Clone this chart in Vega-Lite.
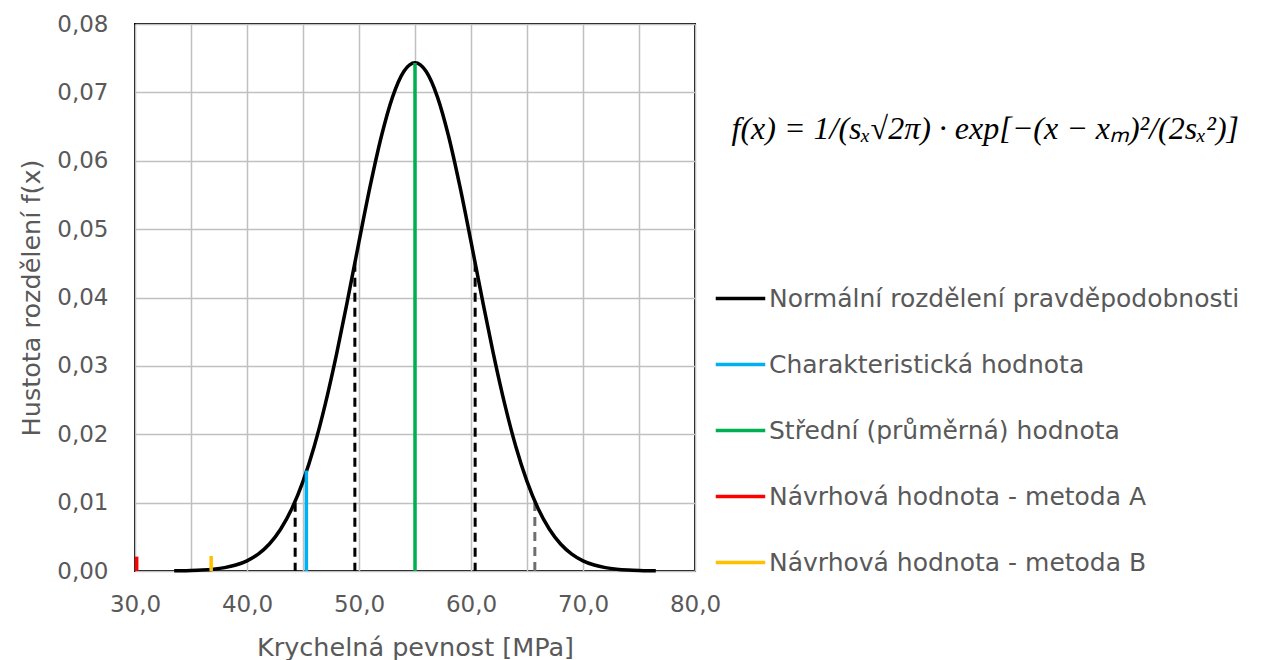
{
  "$schema": "https://vega.github.io/schema/vega-lite/v6.json",
  "width": 560,
  "height": 547,
  "autosize": {"type": "none"},
  "padding": {"left": 135, "top": 24, "right": 573, "bottom": 89},
  "background": "white",
  "config": {
    "font": "DejaVu Sans",
    "view": {"stroke": "#000000", "strokeWidth": 2},
    "axis": {
      "domain": false,
      "ticks": false,
      "labelFlush": false,
      "gridColor": "#c0c0c0",
      "gridWidth": 1.5,
      "labelFont": "DejaVu Sans",
      "labelFontSize": 23,
      "labelColor": "#595959",
      "titleFont": "DejaVu Sans",
      "titleFontSize": 25.5,
      "titleFontWeight": "normal",
      "titleColor": "#595959"
    },
    "legend": {
      "orient": "none",
      "legendX": 579,
      "legendY": 90,
      "symbolType": "stroke",
      "symbolSize": 2450,
      "symbolStrokeWidth": 3.5,
      "labelFont": "DejaVu Sans",
      "labelFontSize": 25,
      "labelColor": "#595959",
      "labelOffset": 2,
      "labelLimit": 0,
      "rowPadding": 26,
      "titleFont": "Liberation Serif",
      "titleFontStyle": "italic",
      "titleFontWeight": "normal",
      "titleFontSize": 32,
      "titleColor": "#000000",
      "titlePadding": 126,
      "titleLimit": 0,
      "titleAnchor": "end"
    }
  },
  "datasets": {
    "curve": [
      {"series": "Normální rozdělení pravděpodobnosti", "x": 33.5, "y": 0.0000243},
      {"series": "Normální rozdělení pravděpodobnosti", "x": 34, "y": 0.0000351},
      {"series": "Normální rozdělení pravděpodobnosti", "x": 35, "y": 0.0000715},
      {"series": "Normální rozdělení pravděpodobnosti", "x": 36, "y": 0.000141},
      {"series": "Normální rozdělení pravděpodobnosti", "x": 37, "y": 0.000268},
      {"series": "Normální rozdělení pravděpodobnosti", "x": 38, "y": 0.000492},
      {"series": "Normální rozdělení pravděpodobnosti", "x": 39, "y": 0.000872},
      {"series": "Normální rozdělení pravděpodobnosti", "x": 40, "y": 0.00149},
      {"series": "Normální rozdělení pravděpodobnosti", "x": 41, "y": 0.00247},
      {"series": "Normální rozdělení pravděpodobnosti", "x": 42, "y": 0.00395},
      {"series": "Normální rozdělení pravděpodobnosti", "x": 43, "y": 0.0061},
      {"series": "Normální rozdělení pravděpodobnosti", "x": 44, "y": 0.00909},
      {"series": "Normální rozdělení pravděpodobnosti", "x": 45, "y": 0.0131},
      {"series": "Normální rozdělení pravděpodobnosti", "x": 46, "y": 0.01821},
      {"series": "Normální rozdělení pravděpodobnosti", "x": 47, "y": 0.02447},
      {"series": "Normální rozdělení pravděpodobnosti", "x": 48, "y": 0.03175},
      {"series": "Normální rozdělení pravděpodobnosti", "x": 49, "y": 0.03979},
      {"series": "Normální rozdělení pravděpodobnosti", "x": 50, "y": 0.04816},
      {"series": "Normální rozdělení pravděpodobnosti", "x": 51, "y": 0.05631},
      {"series": "Normální rozdělení pravděpodobnosti", "x": 52, "y": 0.06358},
      {"series": "Normální rozdělení pravděpodobnosti", "x": 53, "y": 0.06935},
      {"series": "Normální rozdělení pravděpodobnosti", "x": 54, "y": 0.07306},
      {"series": "Normální rozdělení pravděpodobnosti", "x": 55, "y": 0.07434},
      {"series": "Normální rozdělení pravděpodobnosti", "x": 56, "y": 0.07306},
      {"series": "Normální rozdělení pravděpodobnosti", "x": 57, "y": 0.06935},
      {"series": "Normální rozdělení pravděpodobnosti", "x": 58, "y": 0.06358},
      {"series": "Normální rozdělení pravděpodobnosti", "x": 59, "y": 0.05631},
      {"series": "Normální rozdělení pravděpodobnosti", "x": 60, "y": 0.04816},
      {"series": "Normální rozdělení pravděpodobnosti", "x": 61, "y": 0.03979},
      {"series": "Normální rozdělení pravděpodobnosti", "x": 62, "y": 0.03175},
      {"series": "Normální rozdělení pravděpodobnosti", "x": 63, "y": 0.02447},
      {"series": "Normální rozdělení pravděpodobnosti", "x": 64, "y": 0.01821},
      {"series": "Normální rozdělení pravděpodobnosti", "x": 65, "y": 0.0131},
      {"series": "Normální rozdělení pravděpodobnosti", "x": 66, "y": 0.00909},
      {"series": "Normální rozdělení pravděpodobnosti", "x": 67, "y": 0.0061},
      {"series": "Normální rozdělení pravděpodobnosti", "x": 68, "y": 0.00395},
      {"series": "Normální rozdělení pravděpodobnosti", "x": 69, "y": 0.00247},
      {"series": "Normální rozdělení pravděpodobnosti", "x": 70, "y": 0.00149},
      {"series": "Normální rozdělení pravděpodobnosti", "x": 71, "y": 0.000872},
      {"series": "Normální rozdělení pravděpodobnosti", "x": 72, "y": 0.000492},
      {"series": "Normální rozdělení pravděpodobnosti", "x": 73, "y": 0.000268},
      {"series": "Normální rozdělení pravděpodobnosti", "x": 74, "y": 0.000141},
      {"series": "Normální rozdělení pravděpodobnosti", "x": 75, "y": 0.0000715},
      {"series": "Normální rozdělení pravděpodobnosti", "x": 76, "y": 0.0000351},
      {"series": "Normální rozdělení pravděpodobnosti", "x": 76.5, "y": 0.0000243}
    ],
    "values": [
      {"series": "Charakteristická hodnota", "x": 45.3, "top": 0.0147},
      {"series": "Střední (průměrná) hodnota", "x": 55.0, "top": 0.0743},
      {"series": "Návrhová hodnota - metoda A", "x": 30.15, "top": 0.0021},
      {"series": "Návrhová hodnota - metoda B", "x": 36.8, "top": 0.0022}
    ],
    "dashed": [
      {"kind": "black", "x": 44.3, "top": 0.01},
      {"kind": "black", "x": 49.63, "top": 0.0451},
      {"kind": "black", "x": 60.37, "top": 0.0451},
      {"kind": "gray", "x": 65.7, "top": 0.0101}
    ]
  },
  "layer": [
    {
      "data": {"name": "dashed"},
      "transform": [{"filter": "datum.kind === 'black'"}],
      "mark": {"type": "rule", "strokeDash": [9, 6], "strokeWidth": 3, "color": "#000000"},
      "encoding": {
        "x": {
          "field": "x", "type": "quantitative",
          "scale": {"domain": [30, 80], "nice": false, "zero": false},
          "axis": {
            "title": "Krychelná pevnost [MPa]",
            "values": [30, 35, 40, 45, 50, 55, 60, 65, 70, 75, 80],
            "labelExpr": "datum.value % 10 === 0 ? replace(format(datum.value, '.1f'), '.', ',') : ''",
            "labelPadding": 22,
            "titlePadding": 19
          }
        },
        "y": {
          "field": "top", "type": "quantitative",
          "scale": {"domain": [0, 0.08], "nice": false},
          "axis": {
            "title": "Hustota rozdělení f(x)",
            "values": [0, 0.01, 0.02, 0.03, 0.04, 0.05, 0.06, 0.07, 0.08],
            "labelExpr": "replace(format(datum.value, '.2f'), '.', ',')",
            "labelPadding": 27,
            "titlePadding": 12
          }
        },
        "y2": {"datum": 0}
      }
    },
    {
      "data": {"name": "dashed"},
      "transform": [{"filter": "datum.kind === 'gray'"}],
      "mark": {"type": "rule", "strokeDash": [9, 6], "strokeWidth": 3, "color": "#6f6f6f"},
      "encoding": {
        "x": {"field": "x", "type": "quantitative"},
        "y": {"field": "top", "type": "quantitative"},
        "y2": {"datum": 0}
      }
    },
    {
      "data": {"name": "curve"},
      "mark": {"type": "line", "strokeWidth": 3.5, "interpolate": "monotone"},
      "encoding": {
        "x": {"field": "x", "type": "quantitative"},
        "y": {"field": "y", "type": "quantitative"},
        "color": {
          "field": "series", "type": "nominal",
          "scale": {
            "domain": ["Normální rozdělení pravděpodobnosti", "Charakteristická hodnota", "Střední (průměrná) hodnota", "Návrhová hodnota - metoda A", "Návrhová hodnota - metoda B"],
            "range": ["#000000", "#00b0f0", "#00b050", "#ff0000", "#ffc000"]
          },
          "legend": {"title": "f(x) = 1/(sₓ√2π) · exp[−(x − xₘ)²/(2sₓ²)]"}
        }
      }
    },
    {
      "data": {"name": "values"},
      "mark": {"type": "rule", "strokeWidth": 3.5},
      "encoding": {
        "x": {"field": "x", "type": "quantitative"},
        "y": {"field": "top", "type": "quantitative"},
        "y2": {"datum": 0},
        "color": {"field": "series", "type": "nominal"}
      }
    }
  ]
}
